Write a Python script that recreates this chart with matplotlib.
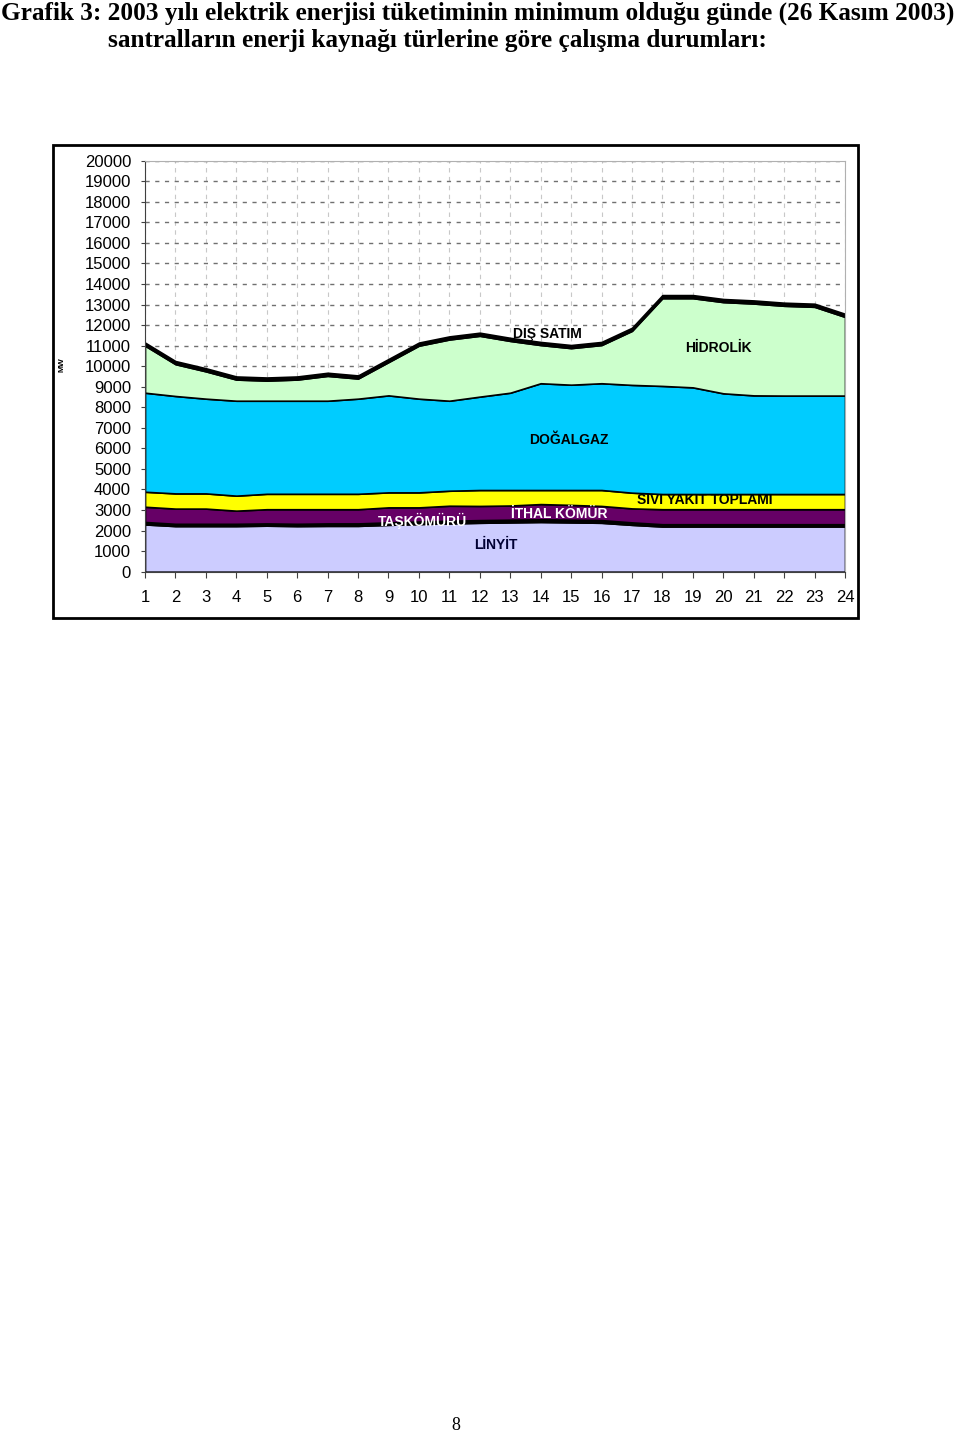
import matplotlib
matplotlib.use("Agg")
import matplotlib.pyplot as plt
from matplotlib.patches import Rectangle

# hourly generation by source, MW (26 Kasım 2003)
hours = list(range(1, 25))
linyit = [2300, 2220, 2220, 2220, 2240, 2220, 2230, 2230, 2280, 2320, 2350, 2380,
          2400, 2420, 2400, 2380, 2280, 2200, 2200, 2200, 2200, 2200, 2200, 2200]
taskomuru = [120, 110, 110, 110, 110, 110, 120, 120, 120, 120, 130, 130,
             130, 130, 130, 130, 120, 110, 110, 110, 110, 110, 110, 110]
ithal_komur = [740, 740, 740, 640, 690, 710, 690, 690, 730, 690, 730, 690,
               690, 740, 720, 690, 680, 730, 730, 730, 730, 730, 730, 730]
sivi_yakit = [730, 740, 740, 730, 750, 750, 750, 750, 730, 730, 730, 775,
              755, 685, 725, 775, 765, 740, 740, 740, 740, 740, 740, 740]
dogalgaz = [4820, 4740, 4610, 4620, 4530, 4530, 4530, 4630, 4720, 4560, 4380, 4545,
            4735, 5195, 5125, 5195, 5245, 5260, 5190, 4900, 4800, 4790, 4790, 4790]
hidrolik = [2290, 1550, 1330, 1030, 980, 1030, 1210, 980, 1620, 2580, 2980, 2960,
            2520, 1860, 1780, 1860, 2630, 4270, 4340, 4440, 4470, 4370, 4320, 3830]
dis_satim = [150, 150, 150, 150, 150, 150, 150, 150, 150, 150, 150, 150,
             150, 150, 150, 150, 150, 150, 150, 150, 150, 150, 150, 150]

colors = ["#CCCCFF", "#000000", "#660066", "#FFFF00", "#00CCFF", "#CCFFCC", "#000000"]

fig = plt.figure(figsize=(9.6, 14.34), dpi=100)

# title
serif = "Liberation Serif"
fig.text(0.001, 1 - 13 / 1434, "Grafik 3: 2003 yılı elektrik enerjisi tüketiminin minimum olduğu günde (26 Kasım 2003)",
         family=serif, weight="bold", fontsize=18.2, va="center", ha="left")
fig.text(108 / 960, 1 - 41 / 1434, "santralların enerji kaynağı türlerine göre çalışma durumları:",
         family=serif, weight="bold", fontsize=18.2, va="center", ha="left")
fig.text(456 / 960, 1 - 1425 / 1434, "8", family=serif, fontsize=13, va="center", ha="center")

# outer chart frame
fig.patches.append(Rectangle((53 / 960, 1 - 618 / 1434), 805 / 960, 473 / 1434,
                             transform=fig.transFigure, fill=False, edgecolor="black",
                             linewidth=2))

ax = fig.add_axes([145 / 960, 1 - 571.7 / 1434, 700 / 960, 411 / 1434])
ax.stackplot(hours, linyit, taskomuru, ithal_komur, sivi_yakit, dogalgaz, hidrolik, dis_satim,
             colors=colors, edgecolor="black", linewidth=1.2, zorder=2)

ax.set_xlim(1, 24)
ax.set_ylim(0, 20000)
ax.set_xticks(hours)
ax.set_yticks(range(0, 20001, 1000))
ax.yaxis.grid(True, color="#707070", linestyle=(0, (3, 4)), linewidth=1)
ax.xaxis.grid(True, color="#c8c8c8", linestyle=(0, (4, 4)), linewidth=0.8)
ax.set_axisbelow(True)

for s in ["top", "right"]:
    ax.spines[s].set_color("#b0b0b0")
for s in ["left", "bottom"]:
    ax.spines[s].set_color("#404040")

sans = "Liberation Sans"
ax.tick_params(axis="y", direction="out", length=3, pad=7, labelsize=12, color="#404040")
ax.tick_params(axis="x", direction="out", length=4, pad=9.5, labelsize=12, color="#404040")
for lab in ax.get_xticklabels() + ax.get_yticklabels():
    lab.set_family(sans)

fig.text(62 / 960, 1 - 365 / 1434, "MW", family=sans, weight="bold", fontsize=6,
         rotation=90, va="center", ha="center")

# series labels inside the chart
labels = [
    ("DIŞ SATIM", 547, 334, "#000000"),
    ("HİDROLİK", 718, 348, "#000000"),
    ("DOĞALGAZ", 569, 440, "#000000"),
    ("SIVI YAKIT TOPLAMI", 705, 500, "#000000"),
    ("İTHAL KÖMÜR", 559, 514, "#ffffff"),
    ("TAŞKÖMÜRÜ", 422, 521, "#ffffff"),
    ("LİNYİT", 496, 545, "#000033"),
]
for txt, x, y, c in labels:
    fig.text(x / 960, 1 - y / 1434, txt, family=sans, weight="bold", fontsize=10,
             color=c, va="center", ha="center", zorder=5)

fig.savefig("out.png", dpi=100)
